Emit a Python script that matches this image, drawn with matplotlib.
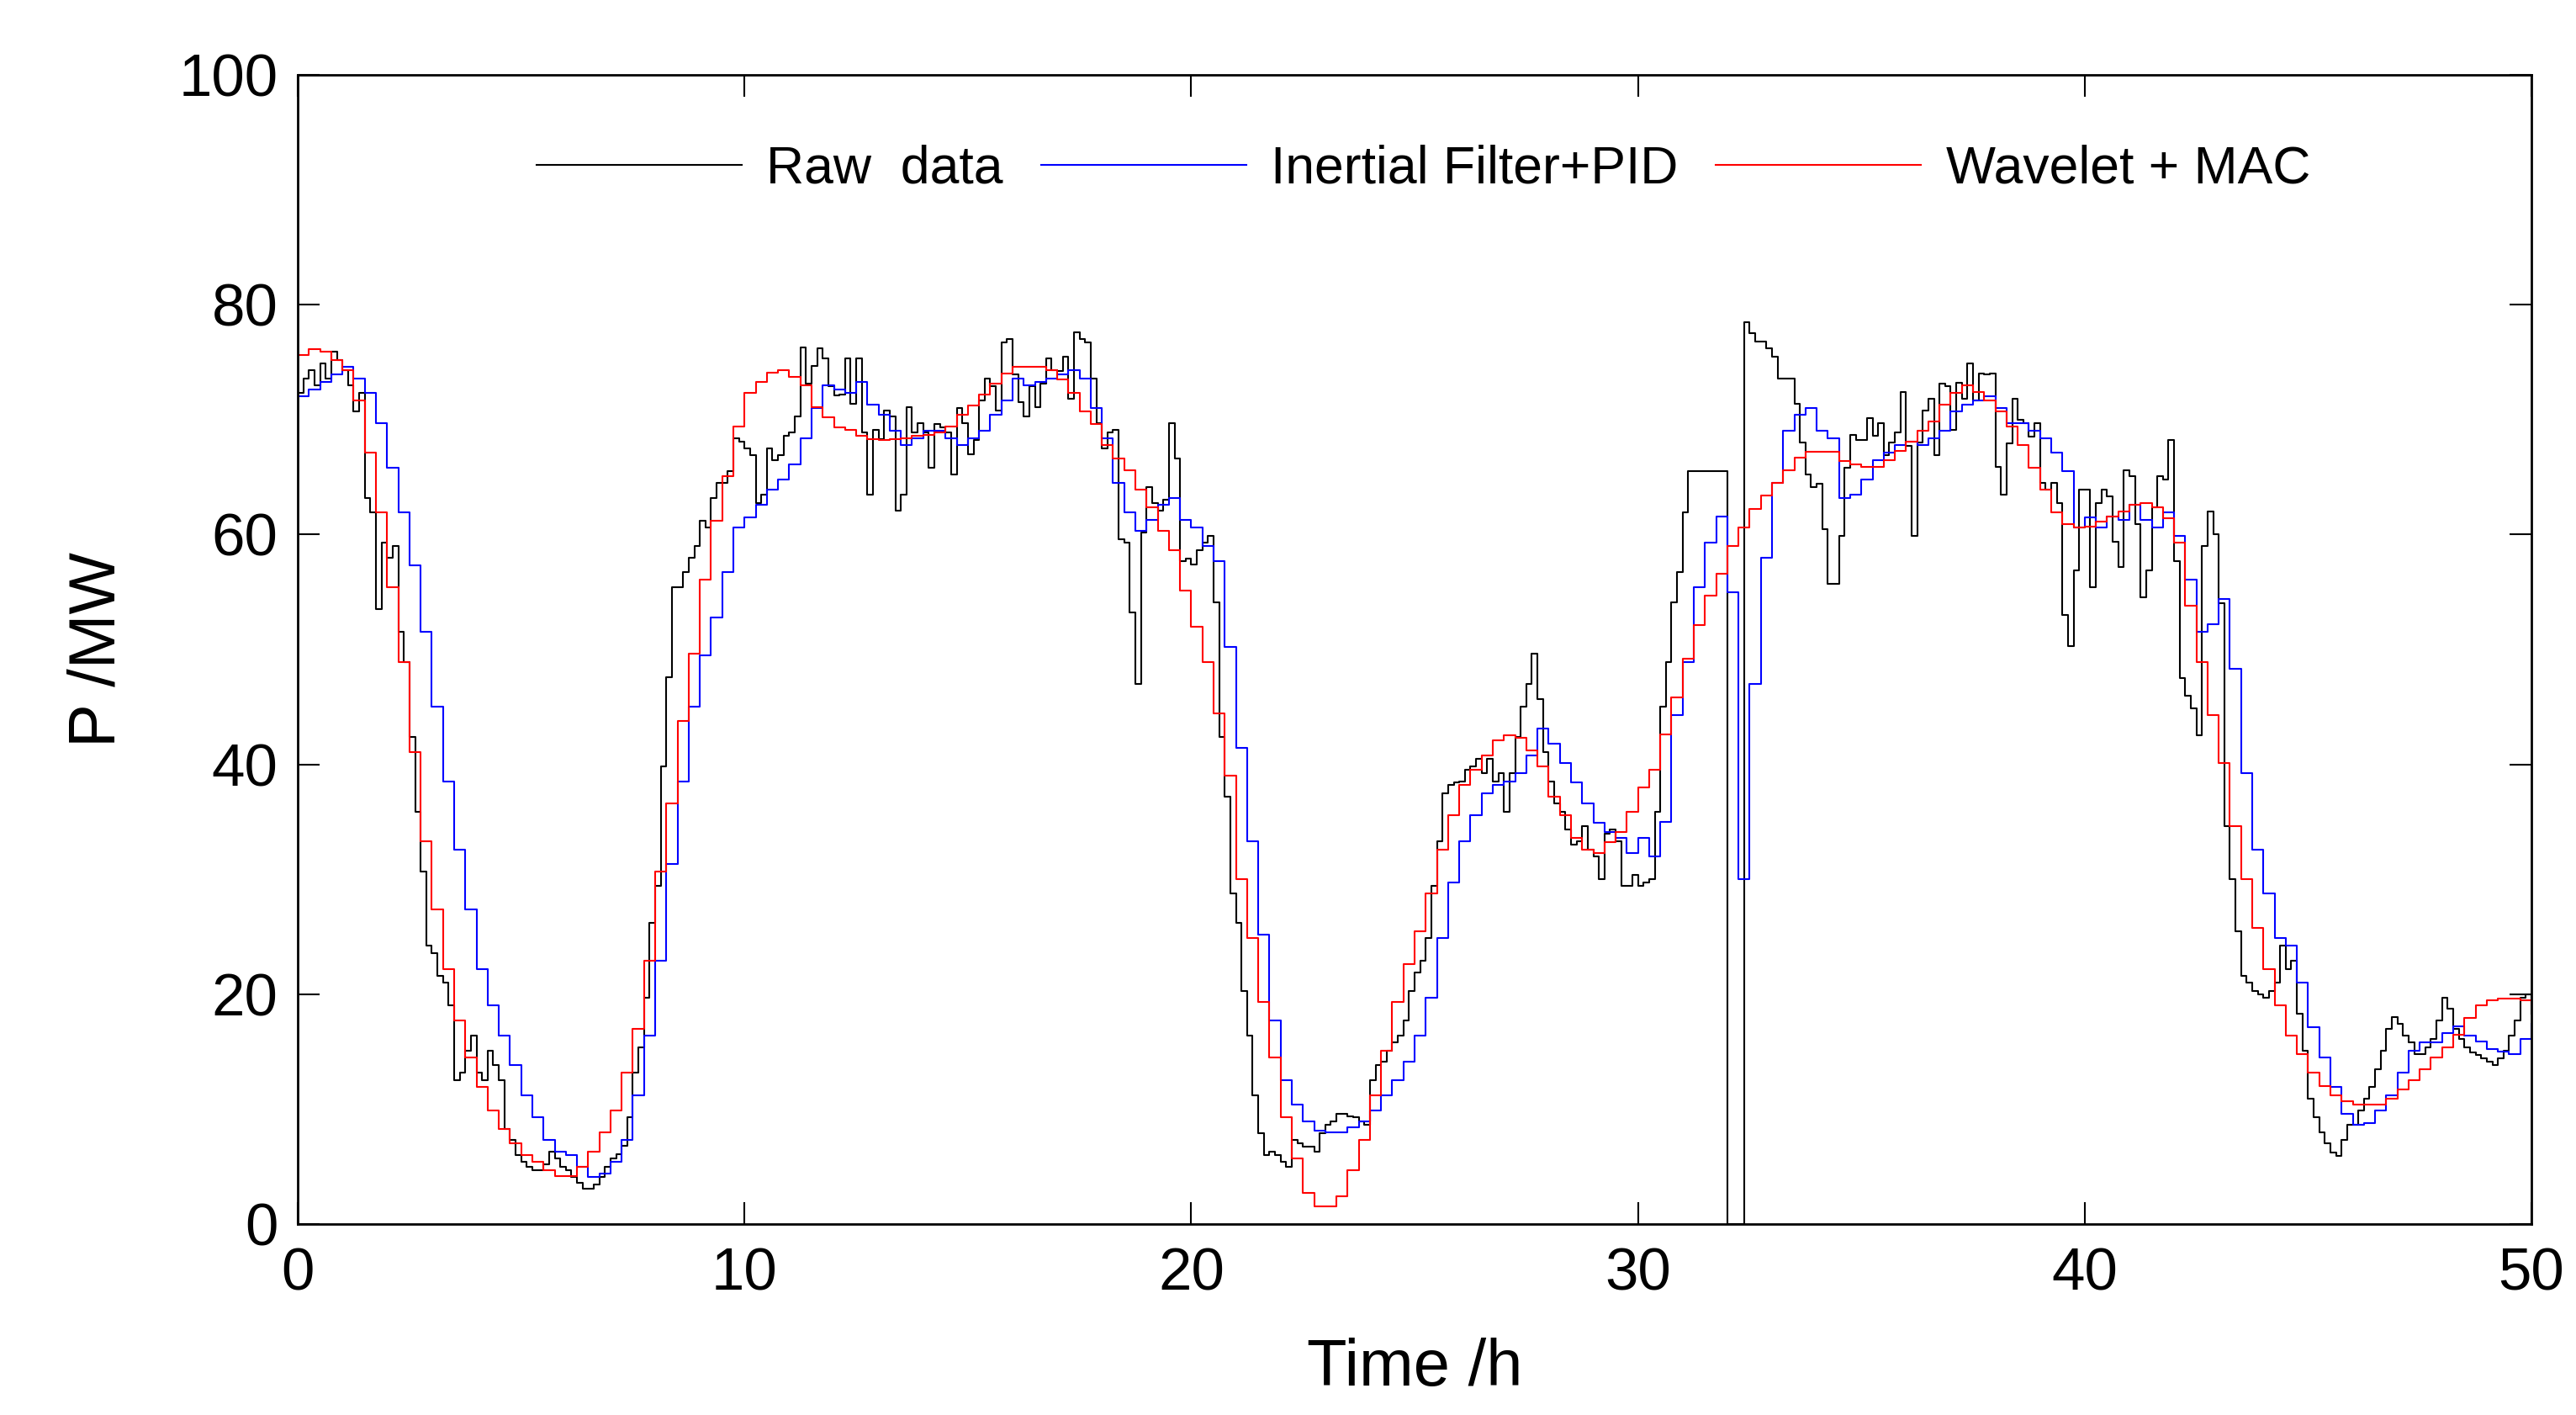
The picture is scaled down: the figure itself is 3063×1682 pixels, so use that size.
import numpy as np
import matplotlib
matplotlib.use("Agg")
import matplotlib.pyplot as plt

plt.rcParams["font.family"] = ["Liberation Sans", "DejaVu Sans"]

# raw measurements every 7.5 min, filtered outputs every 15 min
raw_hours = np.arange(0, 50.001, 0.125)
hours = np.arange(0, 50.001, 0.25)

# one row per hour (8 samples)
raw_data = [
    72.3, 73.6, 74.3, 73.0, 74.9, 73.6, 75.9, 75.2,   # 0
    74.3, 73.0, 70.7, 72.3, 63.2, 61.9, 53.5, 59.3,   # 1
    58.0, 59.0, 51.5, 48.9, 42.4, 35.9, 30.7, 24.2,   # 2
    23.6, 21.6, 21.0, 19.0, 12.5, 13.2, 15.1, 16.4,   # 3
    13.2, 12.5, 15.1, 13.8, 12.5, 8.3, 7.3, 6.0,      # 4
    5.4, 5.0, 4.7, 4.7, 5.2, 6.3, 5.7, 5.0,           # 5
    4.7, 4.1, 3.6, 3.1, 3.1, 3.4, 4.1, 5.0,           # 6
    5.7, 6.1, 6.8, 9.3, 13.2, 15.4, 19.7, 26.2,       # 7
    29.4, 39.8, 47.6, 55.4, 55.4, 56.7, 58.0, 59.0,   # 8
    61.2, 60.6, 63.2, 64.5, 64.5, 65.5, 68.4, 68.1,   # 9
    67.5, 66.9, 62.7, 63.5, 67.5, 66.5, 66.9, 68.6,   # 10
    68.9, 70.3, 76.3, 73.1, 74.7, 76.2, 75.3, 72.9,   # 11
    72.1, 72.2, 75.3, 71.4, 75.3, 68.9, 63.5, 69.1,   # 12
    68.3, 70.8, 70.3, 62.1, 63.5, 71.1, 68.9, 69.7,   # 13
    68.9, 65.8, 69.6, 69.3, 68.9, 65.2, 71.0, 69.7,   # 14
    67.0, 68.2, 71.7, 73.6, 72.9, 70.8, 76.7, 77.0,   # 15
    73.9, 71.5, 70.3, 72.9, 71.1, 73.1, 75.3, 74.3,   # 16
    74.2, 75.5, 71.8, 77.6, 77.0, 76.7, 73.6, 69.7,   # 17
    67.5, 68.9, 69.1, 59.6, 59.3, 53.2, 47.0, 60.2,   # 18
    64.1, 62.7, 62.1, 63.0, 69.7, 66.6, 57.7, 57.9,   # 19
    57.4, 58.6, 59.3, 59.9, 54.1, 42.4, 37.2, 28.8,   # 20
    26.2, 20.3, 16.4, 11.2, 7.9, 6.0, 6.3, 6.0,       # 21
    5.4, 5.0, 7.3, 7.0, 6.7, 6.7, 6.3, 7.9,           # 22
    8.6, 8.9, 9.6, 9.6, 9.4, 9.3, 8.9, 8.6,           # 23
    12.5, 13.8, 14.1, 15.1, 15.8, 16.4, 17.7, 20.3,   # 24
    21.9, 22.9, 24.9, 29.4, 33.3, 37.5, 38.2, 38.4,   # 25
    38.5, 39.5, 39.8, 40.5, 39.2, 40.5, 38.5, 39.2,   # 26
    35.9, 39.2, 42.4, 45.0, 47.0, 49.6, 45.7, 41.1,   # 27
    38.5, 36.6, 35.9, 34.3, 33.0, 33.3, 34.6, 32.6,   # 28
    32.0, 30.0, 34.0, 34.3, 33.3, 29.4, 29.4, 30.4,   # 29
    29.4, 29.7, 30.0, 35.9, 45.0, 48.9, 54.1, 56.7,   # 30
    61.9, 65.5, 65.5, 65.5, 65.5, 65.5, 65.5, 65.5,   # 31
    0.0, 0.0, 0.0, 78.5, 77.5, 76.8, 76.8, 76.2,      # 32
    75.5, 73.6, 73.6, 73.6, 71.4, 68.0, 65.2, 64.1,   # 33
    64.4, 60.5, 55.7, 55.7, 59.9, 65.8, 68.7, 68.2,   # 34
    68.2, 70.1, 68.6, 69.7, 66.9, 68.0, 68.9, 72.4,   # 35
    67.7, 59.9, 68.0, 70.8, 71.8, 66.9, 73.1, 72.9,   # 36
    69.1, 73.2, 71.8, 74.9, 71.7, 74.0, 73.9, 74.0,   # 37
    65.9, 63.5, 67.9, 71.8, 70.0, 69.7, 68.5, 69.7,   # 38
    64.5, 63.9, 64.5, 62.7, 53.0, 50.3, 56.9, 63.9,   # 39
    63.9, 55.4, 62.7, 63.9, 63.3, 59.4, 57.2, 65.6,   # 40
    65.1, 60.9, 54.5, 56.9, 62.4, 65.1, 64.8, 68.2,   # 41
    57.7, 47.5, 46.0, 44.9, 42.5, 59.0, 62.0, 60.0,   # 42
    54.0, 34.6, 30.0, 25.5, 21.6, 21.0, 20.3, 20.0,   # 43
    19.7, 20.3, 21.0, 24.2, 22.2, 22.9, 18.3, 15.1,   # 44
    10.9, 9.3, 8.0, 7.0, 6.2, 5.9, 7.3, 8.6,          # 45
    8.6, 9.9, 10.9, 11.9, 13.5, 15.1, 17.0, 18.0,     # 46
    17.4, 16.4, 15.8, 14.8, 14.8, 15.4, 16.1, 17.7,   # 47
    19.7, 18.7, 17.0, 16.1, 15.4, 14.9, 14.7, 14.4,   # 48
    14.1, 13.8, 14.4, 15.1, 16.4, 17.7, 19.7, 20.0,   # 49
    18.3,
]

inertial_pid = [
    72.0, 72.6, 73.3, 73.9, 74.6, 73.6, 72.3, 69.7, 65.8, 61.9,
    57.3, 51.5, 45.0, 38.5, 32.6, 27.4, 22.2, 19.0, 16.4, 13.8,
    11.2, 9.3, 7.3, 6.3, 6.0, 5.0, 4.1, 4.4, 5.4, 7.3,
    11.2, 16.4, 22.9, 31.3, 38.5, 45.0, 49.5, 52.8, 56.7, 60.6,
    61.5, 62.6, 63.9, 64.8, 66.1, 68.4, 71.0, 73.0, 72.6, 72.3,
    73.3, 71.3, 70.4, 69.0, 67.8, 68.4, 69.0, 69.0, 68.4, 67.8,
    68.4, 69.0, 70.4, 71.7, 73.6, 73.0, 73.3, 73.6, 73.9, 74.3,
    73.6, 71.0, 68.4, 64.5, 61.9, 60.3, 61.3, 62.6, 63.2, 61.3,
    60.6, 59.0, 57.7, 50.2, 41.4, 33.3, 25.2, 17.7, 12.5, 10.4,
    8.9, 8.1, 8.0, 8.0, 8.4, 8.9, 9.9, 11.2, 12.5, 14.1,
    16.4, 19.7, 24.9, 29.7, 33.3, 35.6, 37.5, 38.2, 38.5, 39.2,
    40.8, 43.1, 41.8, 40.1, 38.4, 36.6, 34.9, 34.1, 33.6, 32.3,
    33.6, 32.0, 35.0, 44.3, 48.9, 55.4, 59.3, 61.6, 55.0, 30.0,
    47.0, 58.0, 64.5, 69.0, 70.4, 71.0, 69.0, 68.4, 63.2, 63.5,
    64.8, 66.5, 67.1, 67.8, 68.1, 67.8, 68.4, 69.0, 70.7, 71.3,
    71.7, 72.0, 71.0, 69.7, 69.7, 69.0, 68.4, 67.1, 65.5, 60.6,
    61.5, 60.6, 61.6, 61.3, 62.6, 61.3, 60.6, 61.9, 59.9, 56.1,
    51.5, 52.2, 54.4, 48.3, 39.2, 32.6, 28.8, 24.9, 24.2, 21.0,
    17.1, 14.5, 11.9, 9.6, 8.6, 8.8, 9.9, 11.2, 13.2, 15.1,
    15.8, 15.8, 16.6, 17.2, 16.4, 15.9, 15.2, 15.0, 14.8, 16.1,
    17.4,
]

wavelet_mac = [
    75.6, 76.1, 75.9, 75.2, 74.3, 71.7, 67.1, 61.9, 55.4, 48.9,
    41.1, 33.3, 27.4, 22.2, 17.7, 14.5, 11.9, 9.9, 8.3, 7.0,
    6.0, 5.4, 4.7, 4.2, 4.2, 5.0, 6.3, 8.0, 9.9, 13.2,
    17.0, 22.9, 30.7, 36.6, 43.8, 49.6, 56.1, 61.2, 65.1, 69.4,
    72.3, 73.3, 74.1, 74.3, 73.7, 73.0, 71.1, 70.2, 69.3, 69.1,
    68.6, 68.3, 68.2, 68.3, 68.4, 68.6, 68.7, 68.9, 69.4, 70.4,
    71.2, 72.2, 73.1, 74.0, 74.6, 74.6, 74.6, 74.3, 73.5, 72.3,
    70.7, 69.6, 67.8, 66.6, 65.6, 63.9, 62.4, 60.3, 58.6, 55.1,
    52.0, 48.9, 44.4, 39.0, 30.0, 24.9, 19.3, 14.5, 9.3, 5.7,
    2.7, 1.5, 1.5, 2.4, 4.7, 7.3, 11.2, 15.1, 19.3, 22.6,
    25.5, 28.8, 32.6, 35.6, 38.2, 39.5, 40.8, 42.1, 42.5, 42.3,
    41.2, 39.8, 37.2, 35.6, 33.6, 32.6, 32.3, 33.2, 34.1, 35.9,
    38.0, 39.5, 42.6, 45.8, 49.2, 52.1, 54.7, 56.6, 59.0, 60.6,
    62.2, 63.4, 64.5, 65.6, 66.7, 67.2, 67.2, 67.2, 66.4, 66.1,
    65.9, 65.9, 66.5, 67.3, 68.1, 69.0, 69.8, 71.3, 72.3, 73.0,
    72.4, 71.7, 70.7, 69.4, 67.8, 65.8, 63.9, 61.9, 60.9, 60.6,
    60.7, 61.1, 61.6, 62.0, 62.6, 62.7, 62.4, 61.4, 59.3, 53.8,
    48.9, 44.3, 40.1, 34.6, 30.0, 25.8, 22.2, 19.0, 16.4, 14.8,
    13.2, 12.0, 11.2, 10.7, 10.4, 10.4, 10.4, 10.9, 11.7, 12.5,
    13.5, 14.5, 15.4, 16.5, 17.9, 19.0, 19.5, 19.6, 19.6, 19.5,
    19.1,
]

fig = plt.figure(figsize=(30.63, 16.82), dpi=100)
ax = fig.add_axes([0.1156, 0.135, 0.8671, 0.8121])

ax.plot(raw_hours, raw_data, color="black", lw=1.5, drawstyle="steps-post", label="Raw  data")
ax.plot(hours, inertial_pid, color="#0000ff", lw=1.5, drawstyle="steps-post", label="Inertial Filter+PID")
ax.plot(hours, wavelet_mac, color="#ff0000", lw=1.5, drawstyle="steps-post", label="Wavelet + MAC")

ax.set_xlim(0, 50)
ax.set_ylim(0, 100)
ax.set_xticks(range(0, 51, 10))
ax.set_yticks(range(0, 101, 20))
ax.tick_params(direction="in", length=19, width=1.5, labelsize=51,
               top=True, right=True)
ax.tick_params(axis="x", pad=20)
ax.tick_params(axis="y", pad=17)
for sp in ax.spines.values():
    sp.set_linewidth(2)

ax.set_xlabel("Time /h", fontsize=56, labelpad=30)
ax.set_ylabel("P /MW", fontsize=56, labelpad=43)

ax.legend(loc="center", bbox_to_anchor=(0.504, 0.918), ncol=3, frameon=False,
          fontsize=45, handlelength=3.9, handletextpad=0.47, columnspacing=0.72)

fig.savefig("out.png", dpi=100)
